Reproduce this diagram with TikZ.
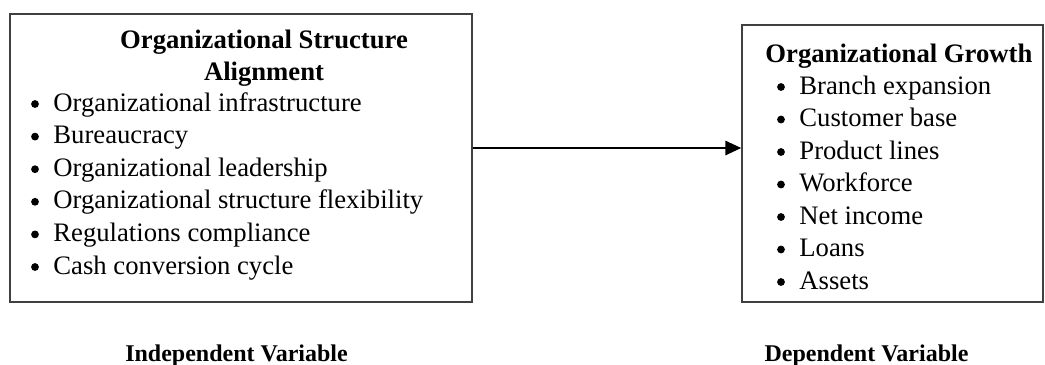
\documentclass[tikz,border=0pt]{standalone}
\usepackage{fontspec}
\setmainfont{Liberation Serif}
\usetikzlibrary{positioning,arrows.meta}
\tikzset{
  varbox/.style={draw=black!75,line width=0.65pt,rectangle,inner sep=0pt},
  dot/.style={circle,fill=black,inner sep=0pt,minimum size=3.5pt},
  bodytext/.style={inner sep=0pt,font=\fontsize{12}{14}\selectfont},
  headtext/.style={inner sep=0pt,font=\fontsize{12}{14}\selectfont\bfseries},
  vartag/.style={anchor=base,inner sep=0pt,font=\fontsize{10.8}{12}\selectfont\bfseries},
  link/.style={-{Triangle[length=7.2pt,width=6.4pt]},line width=1.1pt}
}

\begin{document}
\begin{tikzpicture}[x=0.45pt,y=-0.45pt]
  \useasboundingbox (0,0) rectangle (1045,364);
  % boxes
  \node[varbox,minimum width=462*0.45pt,minimum height=288*0.45pt] (ind) at (241,158) {};
  \node[varbox,minimum width=301*0.45pt,minimum height=277*0.45pt] (dep) at (892.5,163.5) {};
  % independent side
  \node[headtext,anchor=base] (indhead1) at (264,48) {Organizational Structure};
  \node[headtext,anchor=base] (indhead2) at (264,80) {Alignment};
  \foreach \t [count=\i] in {Organizational infrastructure,Bureaucracy,Organizational leadership,Organizational structure flexibility,Regulations compliance,Cash conversion cycle}{
    \node[dot] (indbul\i) at (35,{104+32.6*(\i-1)}) {};
    \node[bodytext,anchor=base west] (inditem\i) at (53,{111+32.6*(\i-1)}) {\t};
  }
  % dependent side
  \node[headtext,anchor=base west] (dephead) at (765,62) {Organizational Growth};
  \foreach \t [count=\i] in {Branch expansion,Customer base,Product lines,Workforce,Net income,Loans,Assets}{
    \node[dot] (depbul\i) at (781,{87+32.5*(\i-1)}) {};
    \node[bodytext,anchor=base west] (depitem\i) at (799,{94+32.5*(\i-1)}) {\t};
  }
  % link
  \coordinate (arrowrow) at (600,148);
  \draw[link] (ind.east |- arrowrow) -- (dep.west |- arrowrow);
  % captions
  \node[vartag] (indvar) at (236.5,361) {Independent Variable};
  \node[vartag] (depvar) at (866.5,361) {Dependent Variable};
\end{tikzpicture}
\end{document}
